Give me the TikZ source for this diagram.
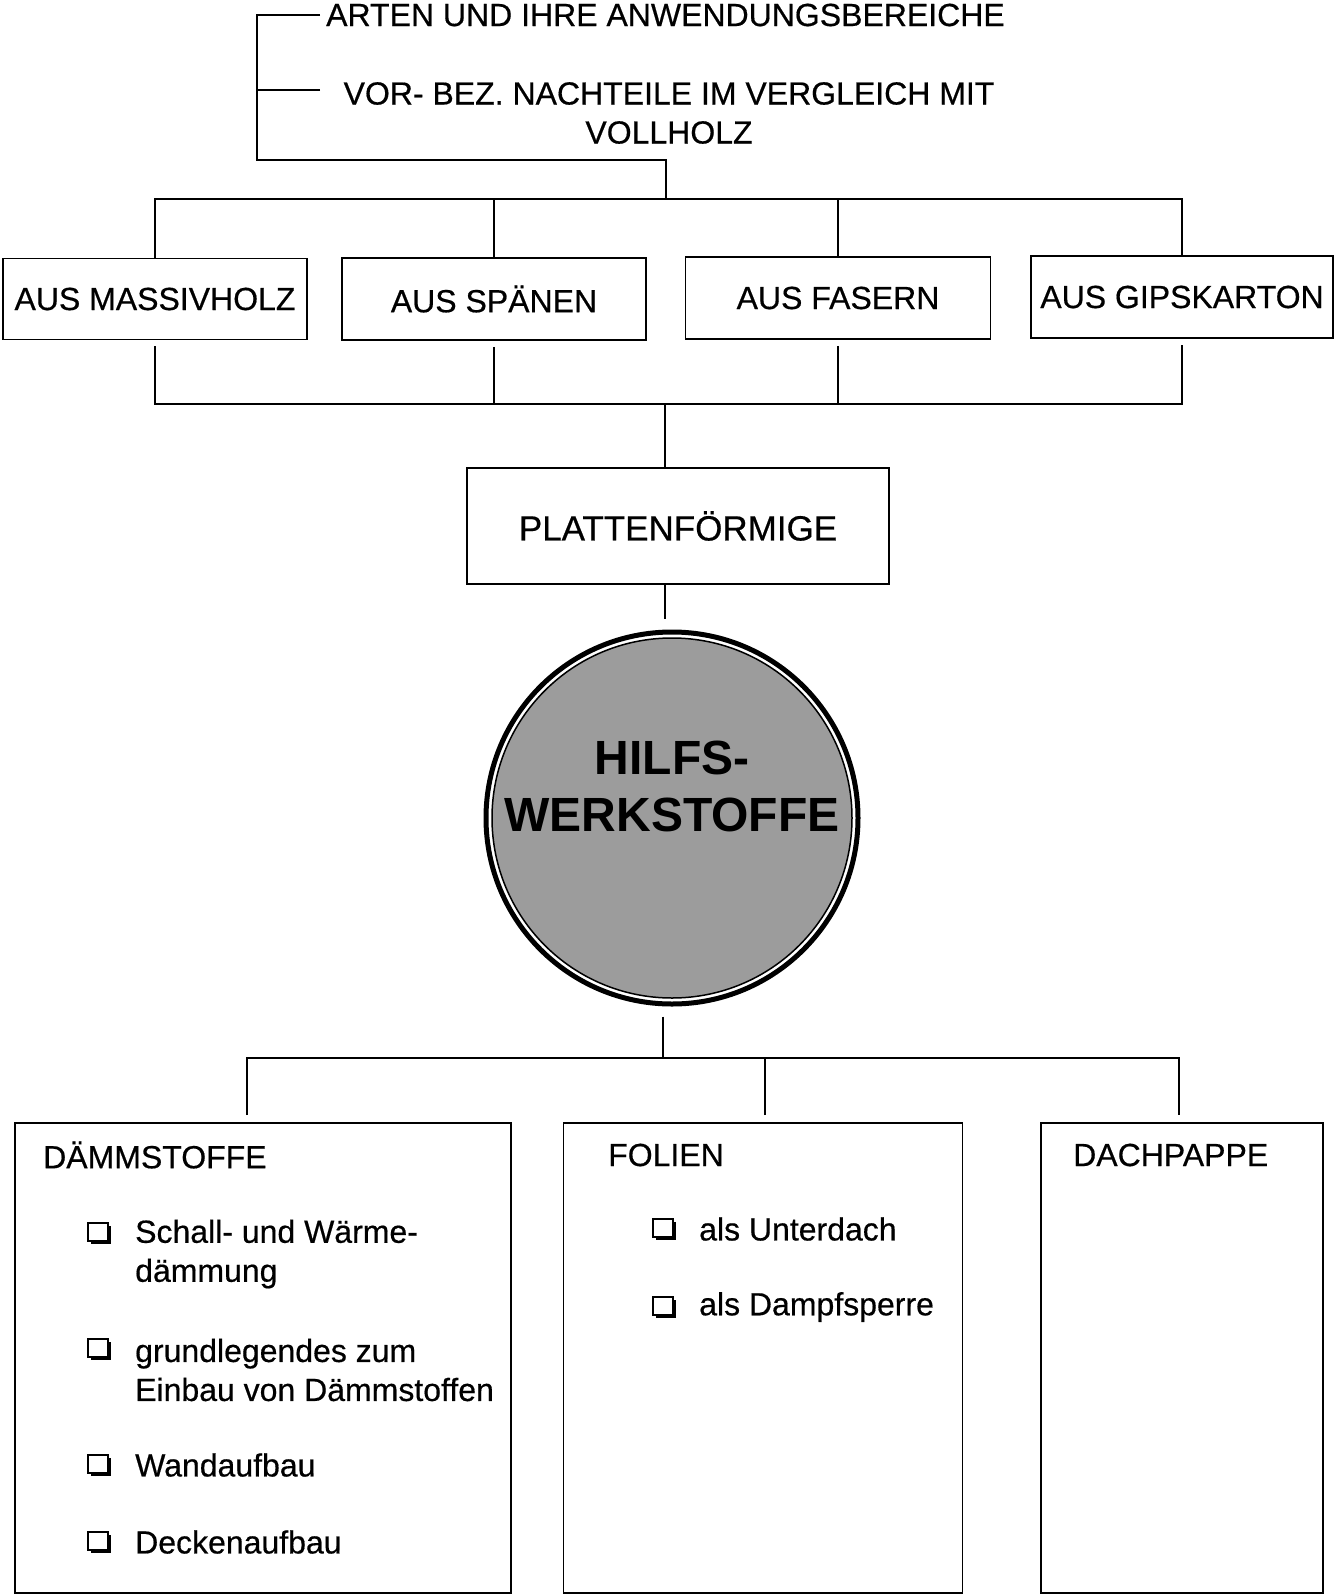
\documentclass[tikz,border=0pt]{standalone}
\usepackage{fontspec}
\setmainfont{Liberation Sans}
\newfontfamily\scanfont{Liberation Sans}[FakeBold=0.5]
\usetikzlibrary{shadows}
\tikzset{
	line/.style={line width=1.6pt},
	box/.style={draw, line width=1.6pt, rectangle, align=center, inner sep=0pt, font=\scanfont\fontsize{32}{39}\selectfont},
	txt/.style={inner sep=0pt, align=left, font=\scanfont\fontsize{32}{39}\selectfont},
	chk/.style={draw, line width=2.2pt, fill=white, minimum width=20pt, minimum height=18pt, inner sep=0pt,
		drop shadow={shadow xshift=3pt, shadow yshift=-3pt, fill=black, opacity=1}},
	hub/.style={draw, circle, line width=5pt, minimum size=372pt, inner sep=0pt},
	hubtxt/.style={align=center, inner sep=0pt, font=\bfseries\fontsize{48}{57}\selectfont},
}
\definecolor{hubgray}{HTML}{9C9C9C}
\begin{document}
\begin{tikzpicture}[x=1pt, y=-1pt]
	\useasboundingbox (0,0) rectangle (1334,1595);
	% top headings
	\node[txt, anchor=west] (arten) at (326,15) {ARTEN UND IHRE ANWENDUNGSBEREICHE};
	\node[txt, align=center] (vor) at (669,113) {VOR- BEZ. NACHTEILE IM VERGLEICH MIT\\VOLLHOLZ};
	\coordinate (bb) at (257,160);
	\coordinate (vt) at (320,90);
	\coordinate (bus1) at (666,199);
	\draw[line] ([xshift=-6pt]arten.west) -- (arten.west -| bb) -- (bb) -| (bus1);
	\draw[line] (vt) -- (vt -| bb);
	% kinds of boards
	\node[box, minimum width=304pt, minimum height=81pt] (mass) at (155,299) {AUS MASSIVHOLZ};
	\node[box, minimum width=304pt, minimum height=82pt] (span) at (494,299) {AUS SPÄNEN};
	\node[box, minimum width=305pt, minimum height=82pt] (fas) at (838,298) {AUS FASERN};
	\node[box, minimum width=302pt, minimum height=82pt] (gips) at (1182,297) {AUS GIPSKARTON};
	\draw[line] (mass.north) |- (bus1) -| (gips.north);
	\draw[line] (span.north) -- (span.north |- bus1);
	\draw[line] (fas.north) -- (fas.north |- bus1);
	\coordinate (bus2) at (665,404);
	\draw[line, shorten <=6pt, shorten >=6pt] (mass.south) |- (bus2) -| (gips.south);
	\draw[line, shorten <=6pt] (span.south) -- (span.south |- bus2);
	\draw[line, shorten <=6pt] (fas.south) -- (fas.south |- bus2);
	\node[box, minimum width=422pt, minimum height=116pt, font=\scanfont\fontsize{35}{40}\selectfont] (platt) at (678,526) {PLATTENFÖRMIGE};
	\draw[line] (bus2) -- (bus2 |- platt.north);
	% centre
	\coordinate (hc) at (672,818);
	\draw[line width=1.5pt, fill=hubgray] (hc) circle (180);
	\node[hub] (hilfs) at (hc) {};
	\node[hubtxt] (hilfst) at ([yshift=32pt]hc) {HILFS-\\WERKSTOFFE};
	\draw[line, shorten >=11pt] (bus2 |- platt.south) -- (bus2 |- hilfs.north);
	% lower part
	\coordinate (bus3) at (663,1058);
	\draw[line, shorten <=10pt] (bus3 |- hilfs.south) -- (bus3);
	\node[box, minimum width=496pt, minimum height=470pt] (daem) at (263,1358) {};
	\node[box, minimum width=399pt, minimum height=470pt] (fol) at (763,1358) {};
	\node[box, minimum width=282pt, minimum height=470pt] (dach) at (1182,1358) {};
	\draw[line, shorten <=7pt, shorten >=7pt] ([xshift=-16pt]daem.north) |- (bus3) -| ([xshift=-3pt]dach.north);
	\draw[line, shorten <=7pt] ([xshift=2pt]fol.north) -- ([xshift=2pt]fol.north |- bus3);
	\node[txt, anchor=west] (daemt) at (43,1155) {DÄMMSTOFFE};
	\node[txt, anchor=west] (folt) at (608,1155) {FOLIEN};
	\node[txt, anchor=west] (dacht) at (1073,1155) {DACHPAPPE};
	% list items
	\node[chk] (c1) at (98,1232) {};
	\node[txt, anchor=west] (i1) at (135,1254) {Schall- und Wärme-\\dämmung};
	\node[chk] (c2) at (98,1348) {};
	\node[txt, anchor=west] (i2) at (135,1370) {grundlegendes zum\\Einbau von Dämmstoffen};
	\node[chk] (c3) at (98,1464) {};
	\node[txt, anchor=west] (i3) at (135,1465) {Wandaufbau};
	\node[chk] (c4) at (98,1541) {};
	\node[txt, anchor=west] (i4) at (135,1542) {Deckenaufbau};
	\node[chk] (c5) at (663,1228) {};
	\node[txt, anchor=west] (i5) at (699,1229) {als Unterdach};
	\node[chk] (c6) at (663,1306) {};
	\node[txt, anchor=west] (i6) at (699,1307) {als Dampfsperre};
\end{tikzpicture}
\end{document}
